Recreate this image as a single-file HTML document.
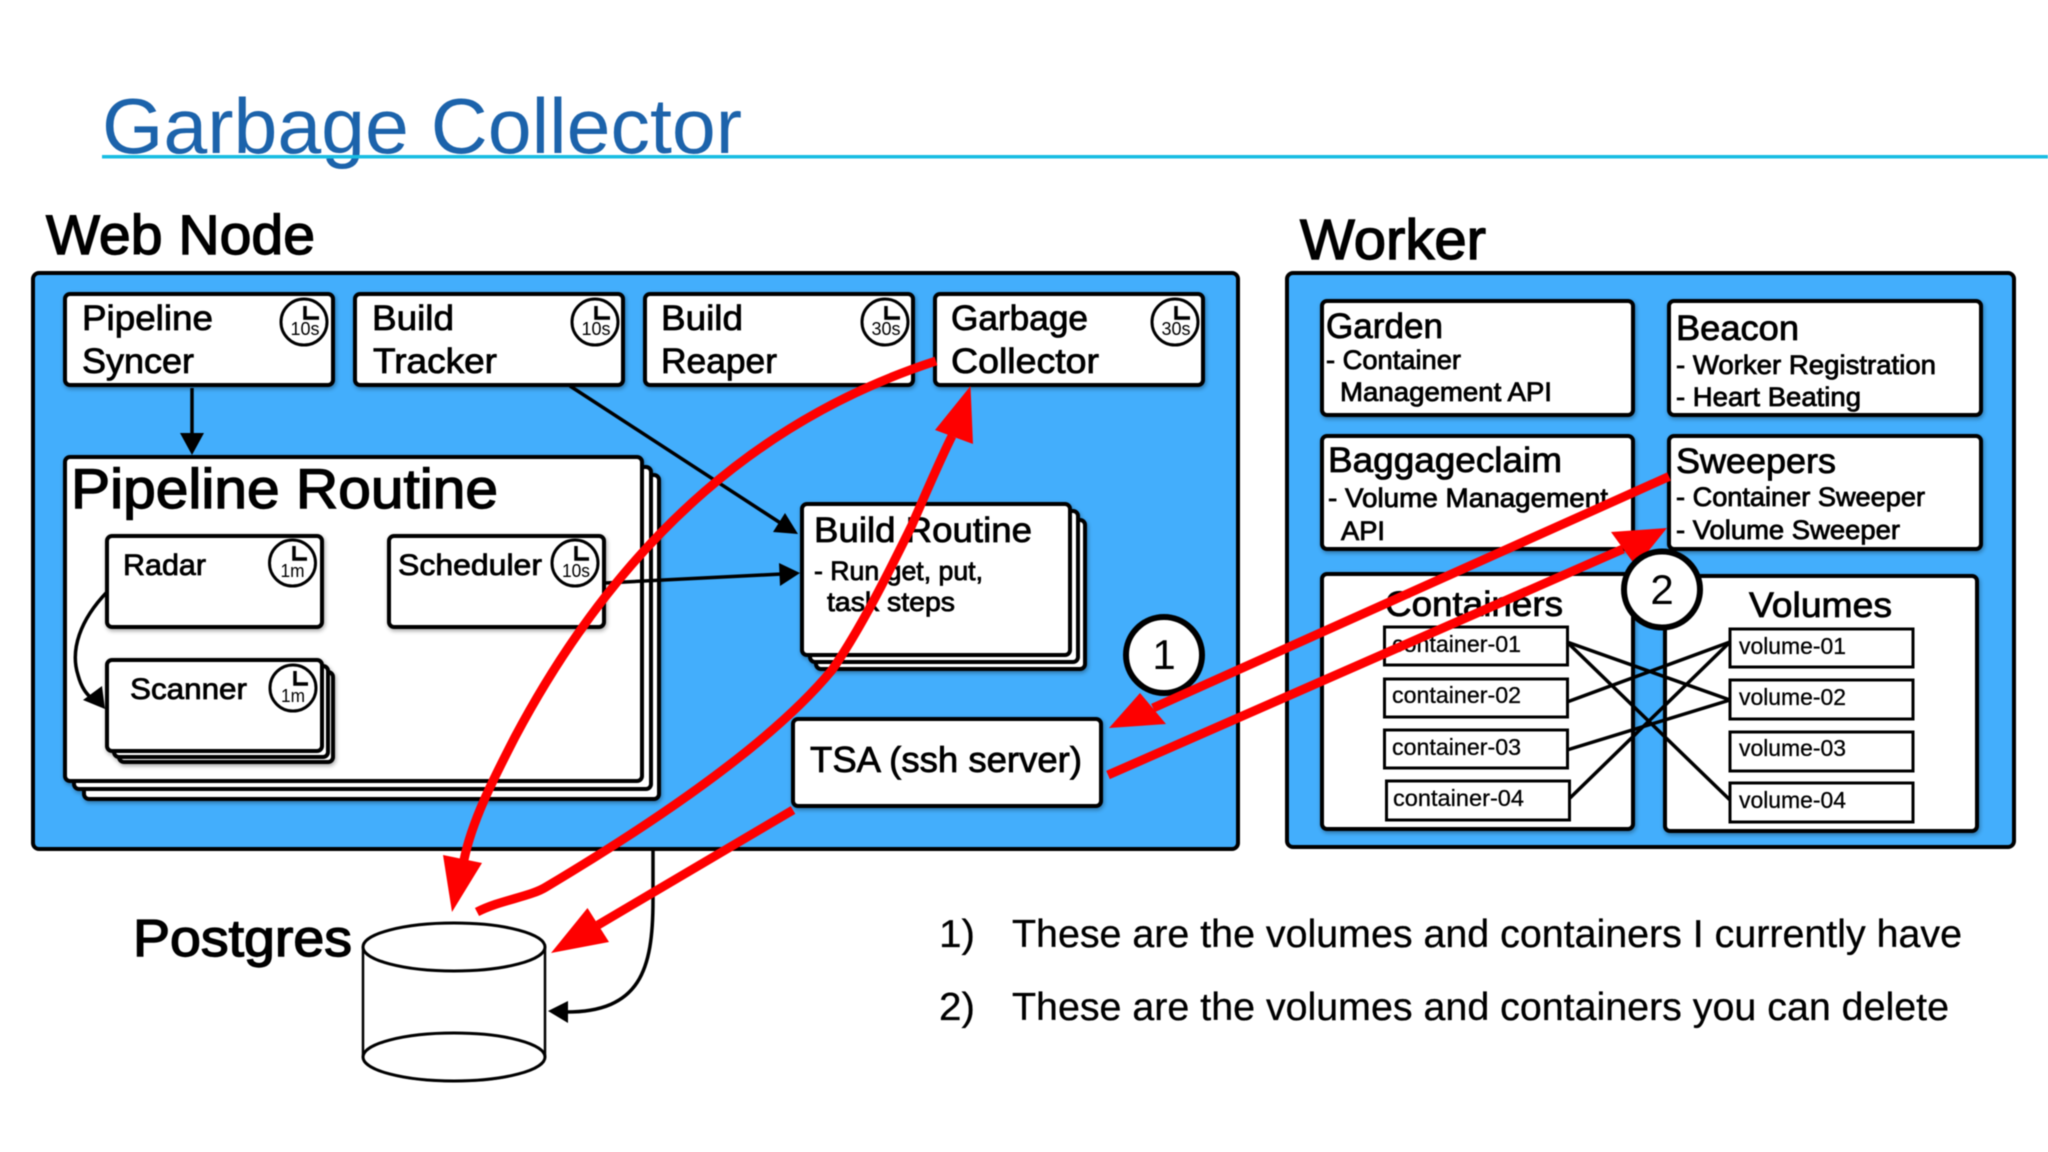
<!DOCTYPE html>
<html><head><meta charset="utf-8"><style>
html,body{margin:0;padding:0;background:#fff;width:2048px;height:1152px;overflow:hidden}
svg{display:block;position:absolute;left:0;top:0;filter:blur(.4px)}
text{font-family:"Liberation Sans",sans-serif;fill:#000}
.m{stroke:#000;stroke-width:.8px}
.hv{stroke:#000;stroke-width:1.4px}
.t{stroke:#000;stroke-width:.3px}
.b{fill:#fff;stroke:#000;stroke-width:4}
.i{fill:#fff;stroke:#000;stroke-width:3}
.c{fill:#fff;stroke:#000;stroke-width:3}
.k{font-size:18px;text-anchor:middle}
.r{fill:none;stroke:#fe0000;stroke-width:9}
.rh{fill:#fe0000}
.l{stroke:#000;stroke-width:3.5;fill:none}
</style></head><body>
<svg width="2048" height="1152" viewBox="0 0 2048 1152" xmlns="http://www.w3.org/2000/svg">
<defs><filter id="s" x="-10%" y="-10%" width="120%" height="125%"><feDropShadow dx="1" dy="2" stdDeviation="2" flood-color="#000" flood-opacity=".35"/></filter></defs>
<rect width="2048" height="1152" fill="#fff"/>

<text x="102" y="153" font-size="78" style="fill:#1c63ab" textLength="640" lengthAdjust="spacingAndGlyphs">Garbage Collector</text>
<rect x="102" y="155" width="1946" height="3.500" fill="#18bde3"/>

<text x="46" y="254" font-size="56" class="hv" textLength="269" lengthAdjust="spacingAndGlyphs">Web Node</text>
<text x="1300" y="259" font-size="57" class="hv" textLength="186" lengthAdjust="spacingAndGlyphs">Worker</text>

<rect x="33" y="273" width="1205" height="576" rx="6" fill="#43aefc" stroke="#000" stroke-width="4"/>
<rect x="1287" y="273" width="727" height="574" rx="6" fill="#43aefc" stroke="#000" stroke-width="4"/>

<!-- top boxes -->
<g filter="url(#s)">
<rect class="b" x="65" y="294" width="268" height="91" rx="5"/>
<rect class="b" x="355" y="294" width="268" height="91" rx="5"/>
<rect class="b" x="645" y="294" width="268" height="91" rx="5"/>
<rect class="b" x="935" y="294" width="268" height="91" rx="5"/>
</g>
<text x="82" y="330" font-size="35" class="m" textLength="131" lengthAdjust="spacingAndGlyphs">Pipeline</text>
<text x="82" y="373" font-size="35" class="m" textLength="112" lengthAdjust="spacingAndGlyphs">Syncer</text>
<text x="372" y="330" font-size="35" class="m" textLength="82" lengthAdjust="spacingAndGlyphs">Build</text>
<text x="373" y="373" font-size="35" class="m" textLength="124" lengthAdjust="spacingAndGlyphs">Tracker</text>
<text x="661" y="330" font-size="35" class="m" textLength="82" lengthAdjust="spacingAndGlyphs">Build</text>
<text x="661" y="373" font-size="35" class="m" textLength="116" lengthAdjust="spacingAndGlyphs">Reaper</text>
<text x="951" y="330" font-size="35" class="m" textLength="137" lengthAdjust="spacingAndGlyphs">Garbage</text>
<text x="951" y="373" font-size="35" class="m" textLength="148" lengthAdjust="spacingAndGlyphs">Collector</text>

<!-- clocks -->
<g>
<ellipse class="c" cx="304" cy="322" rx="23" ry="23"/><path class="l" d="M305 306V318H319"/><text class="k" x="305" y="335" textLength="29" lengthAdjust="spacingAndGlyphs">10s</text>
<ellipse class="c" cx="595" cy="322" rx="23" ry="23"/><path class="l" d="M596 306V318H610"/><text class="k" x="596" y="335" textLength="29" lengthAdjust="spacingAndGlyphs">10s</text>
<ellipse class="c" cx="885" cy="322" rx="23" ry="23"/><path class="l" d="M886 306V318H900"/><text class="k" x="886" y="335" textLength="29" lengthAdjust="spacingAndGlyphs">30s</text>
<ellipse class="c" cx="1175" cy="322" rx="23" ry="23"/><path class="l" d="M1176 306V318H1190"/><text class="k" x="1176" y="335" textLength="29" lengthAdjust="spacingAndGlyphs">30s</text>
</g>

<!-- Pipeline routine stack -->
<g filter="url(#s)">
<rect class="b" x="84" y="475" width="575" height="324" rx="5"/>
<rect class="b" x="74" y="467" width="577" height="322" rx="5"/>
<rect class="b" x="65" y="457" width="577" height="324" rx="5"/>
</g>
<text x="71" y="508" font-size="56" class="hv" textLength="427" lengthAdjust="spacingAndGlyphs">Pipeline Routine</text>

<g filter="url(#s)">
<rect class="b" x="107" y="536" width="215" height="91" rx="5"/>
<rect class="b" x="389" y="536" width="215" height="91" rx="5"/>
<rect class="b" x="119" y="672" width="214" height="90" rx="5"/>
<rect class="b" x="114" y="666" width="214" height="91" rx="5"/>
<rect class="b" x="107" y="660" width="215" height="91" rx="5"/>
</g>
<text x="123" y="575" font-size="30" class="m" textLength="83" lengthAdjust="spacingAndGlyphs">Radar</text>
<text x="398" y="575" font-size="30" class="m" textLength="144" lengthAdjust="spacingAndGlyphs">Scheduler</text>
<text x="130" y="699" font-size="30" class="m" textLength="117" lengthAdjust="spacingAndGlyphs">Scanner</text>
<ellipse class="c" cx="292.500" cy="563" rx="23" ry="23"/><path class="l" d="M294 546V559H307"/><text class="k" x="292.500" y="577" textLength="24" lengthAdjust="spacingAndGlyphs">1m</text>
<ellipse class="c" cx="575" cy="563" rx="23" ry="23"/><path class="l" d="M576 546V559H589"/><text class="k" x="576" y="577" textLength="28" lengthAdjust="spacingAndGlyphs">10s</text>
<ellipse class="c" cx="293" cy="688" rx="23" ry="23"/><path class="l" d="M295 671V684H308"/><text class="k" x="293" y="702" textLength="24" lengthAdjust="spacingAndGlyphs">1m</text>

<!-- Build routine stack -->
<g filter="url(#s)">
<rect class="b" x="816" y="520" width="269" height="149" rx="5"/>
<rect class="b" x="810" y="511" width="268" height="151" rx="5"/>
<rect class="b" x="802" y="504" width="268" height="151" rx="5"/>
</g>
<text x="814" y="542" font-size="35" class="m" textLength="218" lengthAdjust="spacingAndGlyphs">Build Routine</text>
<text x="814" y="580" font-size="27" class="m" textLength="169" lengthAdjust="spacingAndGlyphs">- Run get, put,</text>
<text x="827" y="611" font-size="27" class="m" textLength="128" lengthAdjust="spacingAndGlyphs">task steps</text>

<!-- TSA -->
<rect class="b" filter="url(#s)" x="793" y="719" width="308" height="87" rx="5"/>
<text x="810" y="772" font-size="36" class="m" textLength="272" lengthAdjust="spacingAndGlyphs">TSA (ssh server)</text>

<!-- black connectors -->
<path class="l" d="M192 388V436"/><polygon points="192,455 180,433 204,433"/>
<path class="l" d="M570 386L782 524"/><polygon points="798,534 785,513 773,532"/>
<path class="l" d="M605 583L782 574"/><polygon points="800,573 779,563 780,586"/>
<path class="l" d="M107 592C80 620 70 650 78 675C82 690 88 695 93 700"/><polygon points="105,709 102,686 83,700"/>
<path class="l" d="M653 850V900C653 970 640 1012 566 1012"/><polygon points="548,1011 568,1001 568,1023"/>

<!-- Postgres -->
<text x="133" y="956" font-size="52" class="hv" textLength="219" lengthAdjust="spacingAndGlyphs">Postgres</text>
<path d="M363 947V1057A91 24 0 0 0 545 1057V947" fill="#fff" stroke="#000" stroke-width="2.500"/>
<ellipse cx="454" cy="947" rx="91" ry="24" fill="#fff" stroke="#000" stroke-width="3"/>
<ellipse cx="454" cy="1057" rx="91" ry="24" fill="#fff" stroke="#000" stroke-width="3"/>

<!-- Worker boxes -->
<g filter="url(#s)">
<rect class="b" x="1322" y="301" width="311" height="114" rx="5"/>
<rect class="b" x="1669" y="301" width="312" height="114" rx="5"/>
<rect class="b" x="1322" y="436" width="311" height="113" rx="5"/>
<rect class="b" x="1669" y="436" width="312" height="113" rx="5"/>
<rect class="b" x="1322" y="574" width="311" height="255" rx="5"/>
<rect class="b" x="1665" y="576" width="312" height="255" rx="5"/>
</g>
<text x="1326" y="338" font-size="35" class="m" textLength="117" lengthAdjust="spacingAndGlyphs">Garden</text>
<text x="1326" y="369" font-size="27" class="m" textLength="135" lengthAdjust="spacingAndGlyphs">- Container</text>
<text x="1340" y="401" font-size="27" class="m" textLength="212" lengthAdjust="spacingAndGlyphs">Management API</text>
<text x="1676" y="340" font-size="35" class="m" textLength="123" lengthAdjust="spacingAndGlyphs">Beacon</text>
<text x="1676" y="374" font-size="27" class="m" textLength="260" lengthAdjust="spacingAndGlyphs">- Worker Registration</text>
<text x="1676" y="406" font-size="27" class="m" textLength="185" lengthAdjust="spacingAndGlyphs">- Heart Beating</text>
<text x="1328" y="472" font-size="35" class="m" textLength="234" lengthAdjust="spacingAndGlyphs">Baggageclaim</text>
<text x="1328" y="507" font-size="27" class="m" textLength="280" lengthAdjust="spacingAndGlyphs">- Volume Management</text>
<text x="1341" y="540" font-size="27" class="m" textLength="44" lengthAdjust="spacingAndGlyphs">API</text>
<text x="1676" y="473" font-size="35" class="m" textLength="160" lengthAdjust="spacingAndGlyphs">Sweepers</text>
<text x="1676" y="506" font-size="27" class="m" textLength="249" lengthAdjust="spacingAndGlyphs">- Container Sweeper</text>
<text x="1676" y="539" font-size="27" class="m" textLength="224" lengthAdjust="spacingAndGlyphs">- Volume Sweeper</text>
<text x="1385" y="616" font-size="35" class="m" textLength="178" lengthAdjust="spacingAndGlyphs">Containers</text>
<text x="1749" y="617" font-size="35" class="m" textLength="143" lengthAdjust="spacingAndGlyphs">Volumes</text>

<rect class="i" x="1384.500" y="627" width="183" height="38"/>
<rect class="i" x="1384.500" y="679" width="183" height="38"/>
<rect class="i" x="1384.500" y="730" width="183" height="38"/>
<rect class="i" x="1386.500" y="781" width="183" height="39"/>
<rect class="i" x="1730" y="629" width="183" height="38"/>
<rect class="i" x="1730" y="680" width="183" height="39"/>
<rect class="i" x="1730" y="732" width="183" height="39"/>
<rect class="i" x="1730" y="783" width="183" height="39"/>
<g font-size="23" class="t">
<text x="1392" y="652" textLength="129" lengthAdjust="spacingAndGlyphs">container-01</text>
<text x="1392" y="703" textLength="129" lengthAdjust="spacingAndGlyphs">container-02</text>
<text x="1392" y="755" textLength="129" lengthAdjust="spacingAndGlyphs">container-03</text>
<text x="1393" y="806" textLength="131" lengthAdjust="spacingAndGlyphs">container-04</text>
<text x="1739" y="654" textLength="107" lengthAdjust="spacingAndGlyphs">volume-01</text>
<text x="1739" y="705" textLength="107" lengthAdjust="spacingAndGlyphs">volume-02</text>
<text x="1739" y="756" textLength="107" lengthAdjust="spacingAndGlyphs">volume-03</text>
<text x="1739" y="808" textLength="107" lengthAdjust="spacingAndGlyphs">volume-04</text>
</g>
<g stroke="#000" stroke-width="3.500" fill="none">
<path d="M1567 642L1730 700"/>
<path d="M1567 642L1730 800"/>
<path d="M1567 702L1730 642"/>
<path d="M1567 750L1730 700"/>
<path d="M1570 798L1730 642"/>
</g>

<!-- Circle 1 -->
<circle cx="1164" cy="655" r="38" fill="#fff" stroke="#000" stroke-width="6"/>
<text x="1164" y="669" font-size="42" text-anchor="middle">1</text>

<!-- Red arrows -->
<path class="r" d="M936 361C770 415 625 530 515 737C495 776 472 820 464 860"/>
<polygon class="rh" points="452,912 443,855 482,863"/>
<path class="r" d="M477 912C500 900 530 897 546 887C650 825 770 745 832 670C860 630 890 570 912 525C925 495 940 460 952 436"/>
<polygon class="rh" points="970.500,386 935,430 973,444"/>
<path class="r" d="M793 810L598 925"/>
<polygon class="rh" points="551,953 587.500,908 609,942"/>
<path class="r" d="M1669 476.500L1153 708"/>
<polygon class="rh" points="1109,728 1140,693 1166,724"/>
<path class="r" d="M1108 775L1623 549"/>
<polygon class="rh" points="1667,528 1611,532 1636,566.500"/>

<!-- Circle 2 -->
<circle cx="1662" cy="589.500" r="38" fill="#fff" stroke="#000" stroke-width="6"/>
<text x="1662" y="604" font-size="42" text-anchor="middle">2</text>

<!-- Footer notes -->
<text x="939" y="947" font-size="39" class="t" textLength="36" lengthAdjust="spacingAndGlyphs">1)</text>
<text x="1012" y="947" font-size="39" class="t" textLength="950" lengthAdjust="spacingAndGlyphs">These are the volumes and containers I currently have</text>
<text x="939" y="1020" font-size="39" class="t" textLength="36" lengthAdjust="spacingAndGlyphs">2)</text>
<text x="1012" y="1020" font-size="39" class="t" textLength="937" lengthAdjust="spacingAndGlyphs">These are the volumes and containers you can delete</text>
</svg>
</body></html>
